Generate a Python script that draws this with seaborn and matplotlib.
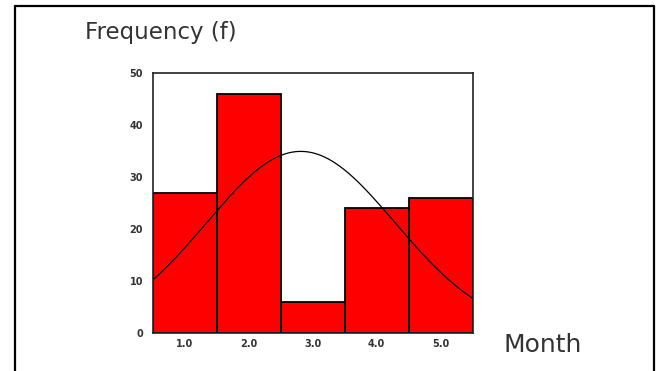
import numpy as np
import pandas as pd
import matplotlib
matplotlib.use("Agg")
import matplotlib.pyplot as plt
from matplotlib.lines import Line2D
import seaborn as sns

months = [1.0, 2.0, 3.0, 4.0, 5.0]
freqs = [27, 46, 6, 24, 26]
tick_labels = ["1.0", "2.0", "3.0", "4.0", "5.0"]
y_ticks = [0, 10, 20, 30, 40, 50]

sns.set_style("white")
plt.rcParams['font.family'] = ['DejaVu Sans']

fig = plt.figure(figsize=(6.58, 3.71), dpi=100)
ax = fig.add_axes([0.2321, 0.1032, 0.4863, 0.6992])

df = pd.DataFrame({"Month": months, "f": freqs})
edges = [m - 0.5 for m in months] + [months[-1] + 0.5]
sns.histplot(data=df, x="Month", weights="f", bins=edges, ax=ax,
             color="#ff0000", alpha=1.0, edgecolor="black", linewidth=1.3)

# normal curve fitted to the data
m = np.array(months); f = np.array(freqs)
n = f.sum()
mean = (m * f).sum() / n
sd = np.sqrt(((m - mean) ** 2 * f).sum() / (n - 1))
xs = np.linspace(edges[0], edges[-1], 200)
ys = n * 1.0 / (sd * np.sqrt(2 * np.pi)) * np.exp(-0.5 * ((xs - mean) / sd) ** 2)
sns.lineplot(x=xs, y=ys, ax=ax, color="black", linewidth=0.9)

ax.set_xlim(edges[0], edges[-1])
ax.set_ylim(0, 50)
ax.set_xticks(months)
ax.set_xticklabels(tick_labels)
ax.set_yticks(y_ticks)
ax.set_xlabel("")
ax.set_ylabel("")
for s in ax.spines.values():
    s.set_visible(True)
    s.set_color("#222222")
    s.set_linewidth(1.2)
ax.tick_params(axis="y", direction="out", length=4, width=1.2, pad=3,
               labelsize=7, colors="#333333")
ax.tick_params(axis="x", direction="out", length=2.5, width=1.2, pad=2,
               labelsize=7, colors="#333333")
for lab in ax.get_xticklabels() + ax.get_yticklabels():
    lab.set_fontweight("bold")

fig.text(161 / 658, 1 - 33 / 371, "Frequency (f)", ha="center", va="center",
         fontsize=16.5, color="#333333")
fig.text(504 / 658, 1 - 345 / 371, "Month", ha="left", va="center",
         fontsize=18, color="#333333")

# outer frame (left, top, right)
lw = 1.6
fig.add_artist(Line2D([14.7 / 658, 14.7 / 658], [0, 1 - 6 / 371],
                      transform=fig.transFigure, color="black", linewidth=lw))
fig.add_artist(Line2D([14.7 / 658, 654 / 658], [1 - 6 / 371, 1 - 6 / 371],
                      transform=fig.transFigure, color="black", linewidth=lw))
fig.add_artist(Line2D([654 / 658, 654 / 658], [0, 1 - 6 / 371],
                      transform=fig.transFigure, color="black", linewidth=lw))

fig.savefig("out.png", dpi=100)
